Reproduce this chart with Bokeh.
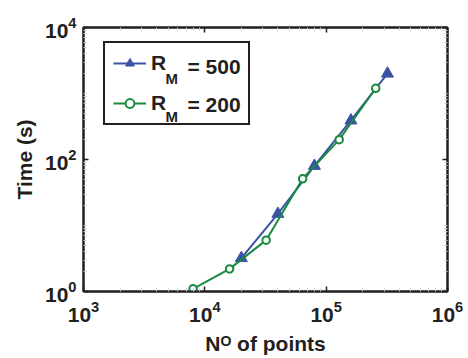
from bokeh.plotting import figure
from bokeh.models import (FixedTicker, LogAxis, Legend, LegendItem, Label,
                          CustomJSTickFormatter)
from bokeh.embed import file_html
from bokeh.resources import INLINE

# Run time versus number of points for two values of R_M
n_points_500 = [20000, 40000, 80000, 160000, 320000]
time_500 = [3.2, 15, 80, 390, 2000]
n_points_200 = [8000, 16000, 32000, 64000, 128000, 256000]
time_200 = [1.1, 2.2, 6.0, 51, 200, 1200]

x_ticks = [1e3, 1e4, 1e5, 1e6]
y_ticks = [1, 1e2, 1e4]
x_minor = [m * d for d in (1e3, 1e4, 1e5) for m in range(2, 10)]
y_minor = [m * d for d in (1, 1e1, 1e2, 1e3) for m in range(2, 10)] + [10, 1e3]

series_labels = ["= 500", "= 200"]

FONT = "Liberation Sans"
BLUE = "#3a53a4"
GREEN = "#178a3e"
INK = "#231f20"

p = figure(x_axis_type="log", y_axis_type="log",
           x_range=(1e3, 1e6), y_range=(1, 1e4),
           frame_width=364, frame_height=264,
           min_border_left=83, min_border_right=21,
           min_border_top=27, min_border_bottom=67,
           output_backend="svg", toolbar_location=None,
           background_fill_color="white", border_fill_color="white")
p.xgrid.visible = False
p.ygrid.visible = False
p.outline_line_color = INK
p.outline_line_width = 2


def style_axis(ax):
    ax.axis_line_color = INK
    ax.axis_line_width = 2
    ax.major_tick_in = 5
    ax.major_tick_out = 0
    ax.major_tick_line_color = INK
    ax.major_tick_line_width = 1.5
    ax.minor_tick_in = 3
    ax.minor_tick_out = 0
    ax.minor_tick_line_color = "#c8c8c8"
    ax.minor_tick_line_width = 1
    ax.major_label_text_font = FONT
    ax.major_label_text_font_style = "bold"
    ax.major_label_text_font_size = "21px"
    ax.major_label_text_color = INK
    ax.axis_label_text_font = FONT
    ax.axis_label_text_font_style = "bold"
    ax.axis_label_text_font_size = "21px"
    ax.axis_label_text_color = INK


xt = FixedTicker(ticks=x_ticks, minor_ticks=x_minor)
yt = FixedTicker(ticks=y_ticks, minor_ticks=y_minor)

p.xaxis.ticker = xt
p.yaxis.ticker = yt
for ax in (p.xaxis[0], p.yaxis[0]):
    style_axis(ax)
p.xaxis.major_label_standoff = 9
p.yaxis.major_label_standoff = 7
p.xaxis.axis_label = "N\u1d3c of points"
p.yaxis.axis_label = "Time (s)"
p.xaxis.axis_label_standoff = 7
p.yaxis.axis_label_standoff = 6

blank = CustomJSTickFormatter(code="return ''")
top = LogAxis(ticker=xt, formatter=blank)
right = LogAxis(ticker=yt, formatter=blank)
for ax in (top, right):
    style_axis(ax)
    ax.major_label_standoff = 0
p.add_layout(top, "above")
p.add_layout(right, "right")

l500 = p.line(n_points_500, time_500, line_color=BLUE, line_width=2)
m500 = p.scatter(n_points_500, time_500, marker="triangle", size=12,
                 fill_color=BLUE, line_color=BLUE)
l200 = p.line(n_points_200, time_200, line_color=GREEN, line_width=2)
m200 = p.scatter(n_points_200, time_200, marker="circle", size=7.5,
                 fill_color="white", line_color=GREEN, line_width=2)

legend = Legend(items=[LegendItem(label="R", renderers=[l500, m500]),
                       LegendItem(label="R", renderers=[l200, m200])],
                location=(20, 166), orientation="vertical",
                glyph_width=33, glyph_height=22, label_height=22,
                label_width=89, label_standoff=5, spacing=16, padding=8,
                margin=0, border_line_color=INK, border_line_width=2,
                border_line_alpha=1, background_fill_alpha=0,
                label_text_font=FONT, label_text_font_style="bold",
                label_text_font_size="21px", label_text_color=INK,
                label_text_baseline="alphabetic")
p.add_layout(legend)

# subscript M and the value after each legend entry
for i, txt in enumerate(series_labels):
    p.add_layout(Label(x=82, y=213 - 38 * i, x_units="screen", y_units="screen",
                       text="M", text_font=FONT, text_font_style="bold",
                       text_font_size="15px", text_color=INK,
                       text_baseline="alphabetic"))
    p.add_layout(Label(x=104, y=225 - 38 * i, x_units="screen", y_units="screen",
                       text=txt, text_font=FONT, text_font_style="bold",
                       text_font_size="21px", text_color=INK,
                       text_baseline="alphabetic"))

open("out.html", "w").write(file_html(p, INLINE))
